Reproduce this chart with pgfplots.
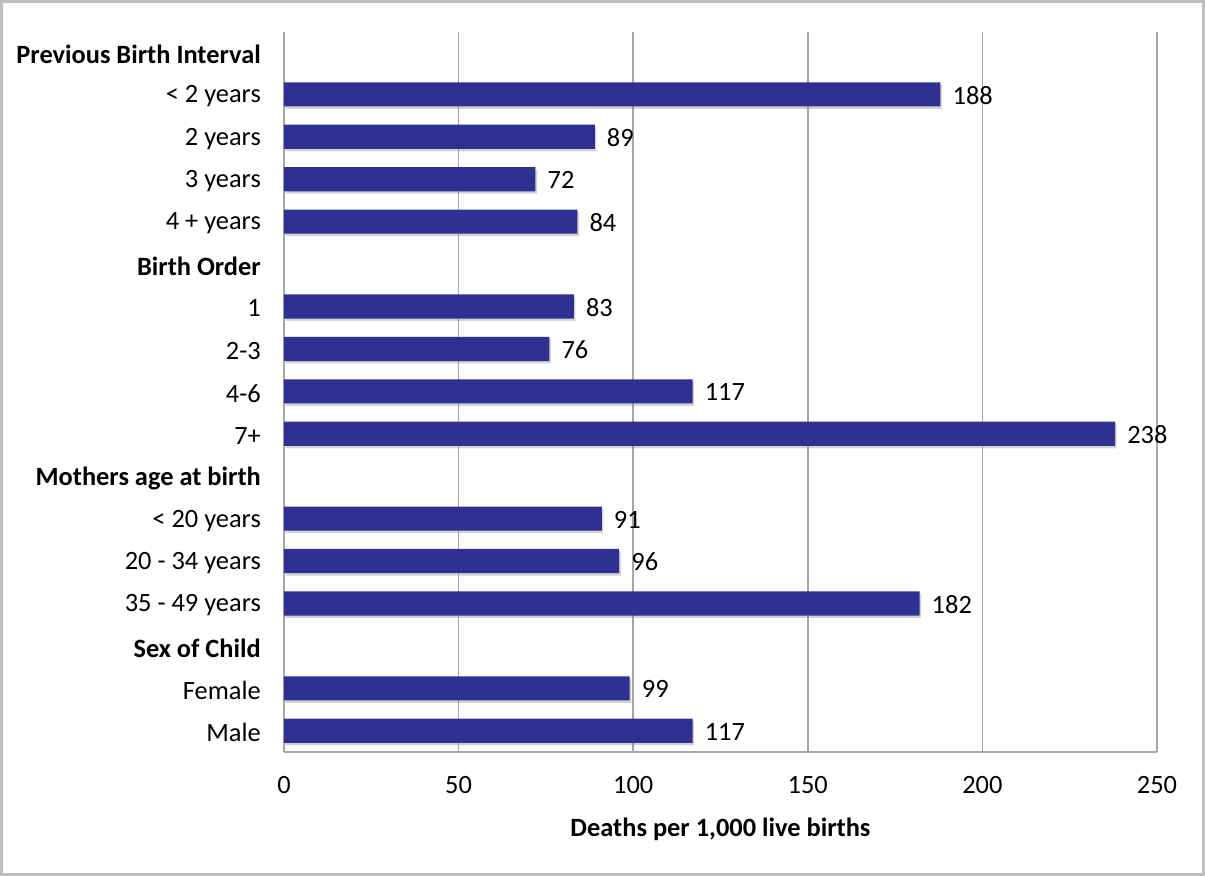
\documentclass[border=0pt]{standalone}
\usepackage{pgfplots}
\pgfplotsset{compat=1.18}
\usepackage{fontspec}
\setmainfont{Carlito}
\usetikzlibrary{shadows}
\definecolor{barblue}{HTML}{2E3192}
\definecolor{gridgray}{HTML}{A6A6A6}
\definecolor{framegray}{HTML}{BFBFBF}
\newcommand{\fs}{\fontsize{13.2pt}{15.8pt}\selectfont}
\begin{document}%
\fs%
\begin{tikzpicture}
\useasboundingbox (-142pt,-62pt) rectangle (460.5pt,376pt);
\draw[framegray, line width=1.5pt] (-141.25pt,-61.25pt) rectangle (459.75pt,375.25pt);
\begin{axis}[
  at={(0,0)}, anchor=south west,
  scale only axis, width=436.5pt, height=360pt,
  xmin=0, xmax=250, ymin=-0.47, ymax=16.5, y dir=reverse,
  xtick={0,50,...,250}, ytick={0,...,16},
  yticklabels={{\textbf{Previous Birth Interval}},{< 2 years},{2 years},{3 years},{4 + years},
    {\textbf{Birth Order}},{1},{2-3},{4-6},{7+},
    {\textbf{Mothers age at birth}},{< 20 years},{20 - 34 years},{35 - 49 years},
    {\textbf{Sex of Child}},{Female},{Male}},
  /pgf/number format/assume math mode=true,
  major tick length=0pt,
  xmajorgrids, grid style={gridgray, line width=0.75pt},
  axis x line*=bottom, axis y line*=left,
  axis line style={gridgray, line width=0.75pt},
  tick label style={font=\fs, text=black},
  xticklabel style={anchor=center, yshift=-16.5pt},
  yticklabel style={anchor=east, xshift=-7pt, yshift=-1pt},
  xlabel={\textbf{Deaths per 1,000 live births}},
  xlabel style={at={(axis description cs:0.5,-0.107)}, anchor=center, font=\fs},
]
\addplot[xbar, fill=barblue, draw=none, bar width=0.57,
  drop shadow={shadow xshift=0.8pt, shadow yshift=-1.2pt, opacity=0.35, fill=gray},
  point meta=x, nodes near coords,
  nodes near coords style={font=\fs, text=black, anchor=west, xshift=1.5pt, yshift=-0.5pt}]
coordinates {(188,1) (89,2) (72,3) (84,4)
 (83,6) (76,7) (117,8) (238,9)
 (91,11) (96,12) (182,13)
 (99,15) (117,16)};
\end{axis}
\end{tikzpicture}%
\end{document}
